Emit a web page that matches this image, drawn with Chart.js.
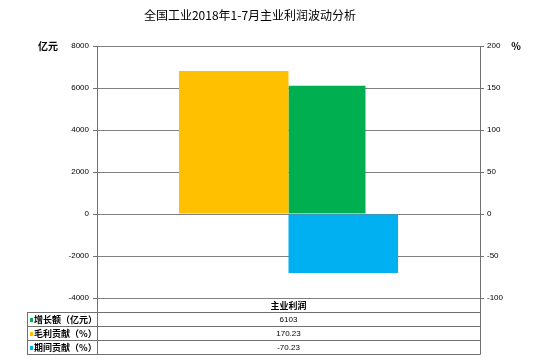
<!DOCTYPE html>
<html>
<head>
<meta charset="utf-8">
<script src="https://cdn.jsdelivr.net/npm/chart.js@4"></script>
<style>
  body { margin: 0; background: #fff; }
  canvas { display: block; }
</style>
</head>
<body>
<canvas id="profitChart" width="534" height="364"></canvas>
<script>
// datos
const categories = ["主业利润"];
const growthAmount = [6103];          // 增长额（亿元），eje izquierdo
const grossContribution = [170.23];   // 毛利贡献（%），eje derecho
const periodContribution = [-70.23];  // 期间贡献（%），eje derecho
const rowLabels = ["增长额（亿元）", "毛利贡献（%）", "期间贡献（%）"];
const leftTicks = [-4000, 8000, 2000];   // min, max, paso
const rightTicks = [-100, 200, 50];

const GREEN = "#00B050";
const YELLOW = "#FFC000";
const BLUE = "#00B0F0";
const CJK = "'Noto Sans CJK SC', sans-serif";
const NUM = "'Liberation Sans', Arial, sans-serif";

// titulo, unidades y tabla de datos
const extrasPlugin = {
    id: "extras",
    afterDraw(chart) {
        const ctx = chart.ctx;
        const area = chart.chartArea;
        ctx.save();

        ctx.fillStyle = "#000";
        ctx.textBaseline = "middle";
        ctx.textAlign = "center";
        ctx.font = "12px " + CJK;
        ctx.fillText("全国工业2018年1-7月主业利润波动分析", 250, 15);

        ctx.font = "bold 10px " + CJK;
        ctx.fillText("亿元", 48, area.top);
        ctx.fillText("%", 516, area.top);

        // tabla
        const rowH = 14;
        const tableLeft = 27;
        const headTop = area.bottom;
        ctx.strokeStyle = "#707070";
        ctx.lineWidth = 1;
        ctx.beginPath();
        for (let i = 1; i <= 4; i++) {
            const y = Math.round(headTop + rowH * i) + 0.5;
            ctx.moveTo(tableLeft, y);
            ctx.lineTo(Math.round(area.right) + 0.5, y);
        }
        ctx.moveTo(tableLeft + 0.5, headTop + rowH);
        ctx.lineTo(tableLeft + 0.5, headTop + rowH * 4 + 0.5);
        ctx.moveTo(Math.round(area.left) + 0.5, headTop);
        ctx.lineTo(Math.round(area.left) + 0.5, headTop + rowH * 4 + 0.5);
        ctx.moveTo(Math.round(area.right) + 0.5, headTop);
        ctx.lineTo(Math.round(area.right) + 0.5, headTop + rowH * 4 + 0.5);
        ctx.stroke();

        const midX = (area.left + area.right) / 2;
        ctx.font = "bold 9px " + CJK;
        ctx.fillText(categories[0], midX, headTop + rowH / 2 + 1);

        const rowValues = [growthAmount[0], grossContribution[0], periodContribution[0]];
        const rowColors = [GREEN, YELLOW, BLUE];
        rowLabels.forEach((label, i) => {
            const cy = headTop + rowH * (i + 1) + rowH / 2 + 1;
            ctx.fillStyle = rowColors[i];
            ctx.fillRect(tableLeft + 3, cy - 2, 3, 4);
            ctx.fillStyle = "#000";
            ctx.textAlign = "left";
            ctx.font = "bold 9px " + CJK;
            ctx.fillText(label, tableLeft + 7, cy);
            ctx.textAlign = "center";
            ctx.font = "8px " + NUM;
            ctx.fillText(String(rowValues[i]), midX, cy);
        });

        ctx.restore();
    }
};

const ctx = document.getElementById("profitChart").getContext("2d");

new Chart(ctx, {
    type: "bar",
    data: {
        labels: categories,
        datasets: [
            {
                label: "毛利贡献（%）",
                data: grossContribution,
                backgroundColor: YELLOW,
                yAxisID: "y1",
                stack: "a",
                categoryPercentage: 0.572,
                barPercentage: 1
            },
            {
                label: "增长额（亿元）",
                data: growthAmount,
                backgroundColor: GREEN,
                yAxisID: "y",
                stack: "b",
                categoryPercentage: 0.402,
                barPercentage: 1
            },
            {
                label: "期间贡献（%）",
                data: periodContribution,
                backgroundColor: BLUE,
                yAxisID: "y1",
                stack: "b",
                categoryPercentage: 0.572,
                barPercentage: 1
            }
        ]
    },
    options: {
        responsive: false,
        animation: false,
        layout: { padding: { top: 46, bottom: 66, left: 0, right: 0 } },
        plugins: {
            legend: { display: false },
            title: { display: false },
            tooltip: { enabled: false }
        },
        scales: {
            x: {
                display: false
            },
            y: {
                position: "left",
                min: leftTicks[0],
                max: leftTicks[1],
                ticks: {
                    stepSize: leftTicks[2],
                    color: "#000",
                    padding: 4,
                    font: { family: NUM, size: 8 },
                    callback: v => String(v)
                },
                grid: { color: "#808080", tickLength: 4, tickColor: "#707070" },
                border: { color: "#707070" },
                afterFit(scale) { scale.width = 97; }
            },
            y1: {
                position: "right",
                min: rightTicks[0],
                max: rightTicks[1],
                ticks: {
                    stepSize: rightTicks[2],
                    color: "#000",
                    padding: 3,
                    font: { family: NUM, size: 8 },
                    callback: v => String(v)
                },
                grid: { drawOnChartArea: false, tickLength: 4, tickColor: "#707070" },
                border: { color: "#707070" },
                afterFit(scale) { scale.width = 54; }
            }
        }
    },
    plugins: [extrasPlugin]
});
</script>
</body>
</html>
